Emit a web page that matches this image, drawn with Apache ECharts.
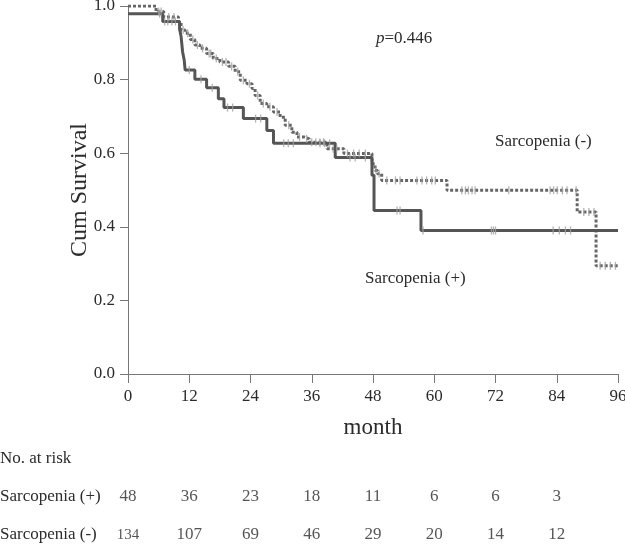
<!DOCTYPE html>
<html>
<head>
<meta charset="utf-8">
<script src="https://cdn.jsdelivr.net/npm/echarts@6/dist/echarts.min.js"></script>
<style>html,body{margin:0;padding:0;background:#fff}#c{width:625px;height:544px}</style>
</head>
<body>
<div id="c"></div>
<script>
// Kaplan-Meier step data (month, cumulative survival)
var plusT = [0, 6.8, 10.1, 10.4, 10.7, 11.0, 11.2, 13.1, 15.4, 17.7, 18.8, 22.6, 27.2, 28.5, 40.6, 47.8, 48.2, 57.4, 96];
var plusS = [0.979, 0.958, 0.9375, 0.917, 0.875, 0.854, 0.826, 0.801, 0.778, 0.748, 0.724, 0.694, 0.662, 0.627, 0.588, 0.54, 0.444, 0.39, 0.39];
var minusT = [0, 5.5, 7.0, 9.9, 10.4, 11.2, 12.2, 13.1, 14.1, 15.4, 16.7, 18.0, 19.7, 21.0, 22.0, 23.3, 24.3, 24.9, 25.9, 27.2, 28.5, 29.8, 30.8, 32.1, 33.1, 34.5, 35.5, 39.0, 42.3, 47.8, 48.4, 48.9, 49.7, 62.5, 88.0, 91.7, 96];
var minusS = [1.0, 0.985, 0.97, 0.957, 0.935, 0.926, 0.909, 0.894, 0.885, 0.871, 0.857, 0.848, 0.836, 0.821, 0.798, 0.789, 0.776, 0.757, 0.735, 0.726, 0.712, 0.698, 0.676, 0.657, 0.644, 0.639, 0.630, 0.612, 0.599, 0.571, 0.553, 0.544, 0.526, 0.499, 0.44, 0.294, 0.294];
// censored observation times
var plusCens = [6.2, 7.2, 7.8, 8.6, 9.3, 12, 14.3, 16.5, 19.5, 20.5, 25, 26, 30.5, 31.4, 32.4, 37.6, 38.5, 39.5, 43.5, 44.5, 46.5, 52.7, 53.3, 57.8, 71.2, 71.6, 72, 83.3, 84.5, 85.7, 86.7];
var minusCens = [6, 6.5, 8, 9, 10.8, 11.7, 12.7, 13.6, 14.6, 15.9, 16.2, 17.3, 18.5, 19.2, 20.3, 21.5, 22.6, 23.8, 25.4, 26.5, 27.8, 29.2, 31.5, 33.6, 35, 36, 36.8, 37.6, 38.3, 40.2, 40.9, 43, 44.2, 45.3, 46.5, 48.6, 49.2, 50.7, 52.4, 53.3, 56.6, 57.6, 58.5, 59.5, 60.2, 65.4, 66.1, 66.7, 67.4, 68, 74.6, 82.7, 83.4, 84.1, 85.1, 86, 87.8, 89.3, 90.3, 91.3, 92.5, 93.5, 94.5, 95.5];
// axis ticks
var xTicks = [0, 12, 24, 36, 48, 60, 72, 84, 96];
var yTicks = [0.0, 0.2, 0.4, 0.6, 0.8, 1.0];
// number at risk
var riskMonths = [0, 12, 24, 36, 48, 60, 72, 84];
var riskPlus = [48, 36, 23, 18, 11, 6, 6, 3];
var riskMinus = [134, 107, 69, 46, 29, 20, 14, 12];
var groups = ['Sarcopenia (+)', 'Sarcopenia (-)'];

var FONT = '"Liberation Serif", "DejaVu Serif", serif';
var TXT = '#2b2b2b';

function pairs(T, S) { return T.map(function (t, i) { return [t, S[i]]; }); }
function survAt(T, S, t) { var v = S[0]; for (var i = 0; i < T.length; i++) { if (T[i] <= t) v = S[i]; } return v; }
function cens(times, T, S) { return times.map(function (t) { return [t, survAt(T, S, t)]; }); }

var riskData = [];
riskMonths.forEach(function (m, i) {
  riskData.push({ value: [m, groups[0], riskPlus[i]] });
  riskData.push({ value: [m, groups[1], riskMinus[i]], small: riskMinus[i] >= 100 && m === 0 });
});

var chart = echarts.init(document.getElementById('c'), null, { renderer: 'canvas' });
chart.setOption({
  animation: false,
  backgroundColor: '#fff',
  textStyle: { fontFamily: FONT },
  grid: [
    { left: 128, right: 7, top: 6, bottom: 170, outerBoundsMode: 'none', containLabel: false },
    { left: 128, right: 7, top: 497, height: 38, outerBoundsMode: 'none', containLabel: false }
  ],
  xAxis: [
    {
      gridIndex: 0, type: 'value', min: 0, max: 96, interval: 12,
      name: 'month', nameLocation: 'middle', nameGap: 42, nameMoveOverlap: false,
      nameTextStyle: { fontFamily: FONT, fontSize: 23, color: TXT },
      axisLine: { lineStyle: { color: '#777', width: 1 } },
      axisTick: { length: 9, lineStyle: { color: '#777' } },
      axisLabel: { margin: 14, fontFamily: FONT, fontSize: 17, color: TXT },
      splitLine: { show: false }
    },
    { gridIndex: 1, type: 'value', min: 0, max: 96, show: false }
  ],
  yAxis: [
    {
      gridIndex: 0, type: 'value', min: 0, max: 1, interval: 0.2,
      name: 'Cum Survival', nameLocation: 'middle', nameGap: 36, nameRotate: 90, nameMoveOverlap: false,
      nameTextStyle: { fontFamily: FONT, fontSize: 24, color: TXT },
      axisLine: { show: true, lineStyle: { color: '#777', width: 1 } },
      axisTick: { show: true, length: 8, lineStyle: { color: '#777' } },
      axisLabel: { margin: 13, fontFamily: FONT, fontSize: 17, color: TXT,
        formatter: function (v) { return v.toFixed(1); } },
      splitLine: { show: false }
    },
    {
      gridIndex: 1, type: 'category', data: groups, inverse: true, boundaryGap: false,
      axisLine: { show: false }, axisTick: { show: false },
      axisLabel: { show: true, align: 'left', margin: 128, fontFamily: FONT, fontSize: 17, color: TXT }
    }
  ],
  series: [
    {
      name: 'Sarcopenia (+)', type: 'line', step: 'end', xAxisIndex: 0, yAxisIndex: 0,
      data: pairs(plusT, plusS), symbol: 'none', z: 3,
      lineStyle: { color: '#555', width: 3, type: 'solid' }
    },
    {
      name: 'Sarcopenia (-)', type: 'line', step: 'end', xAxisIndex: 0, yAxisIndex: 0,
      data: pairs(minusT, minusS), symbol: 'none', z: 2,
      lineStyle: { color: '#666', width: 3, type: [3, 2] }
    },
    {
      type: 'scatter', xAxisIndex: 0, yAxisIndex: 0, z: 4,
      data: cens(plusCens, plusT, plusS), symbol: 'rect', symbolSize: [1.3, 8],
      itemStyle: { color: '#a0a0a0' }
    },
    {
      type: 'scatter', xAxisIndex: 0, yAxisIndex: 0, z: 4,
      data: cens(minusCens, minusT, minusS), symbol: 'rect', symbolSize: [1.3, 8],
      itemStyle: { color: '#a0a0a0' }
    },
    {
      type: 'scatter', xAxisIndex: 1, yAxisIndex: 1, symbolSize: 0,
      data: riskData.map(function (d) {
        return { value: d.value, label: { fontSize: d.small ? 15 : 17 } };
      }),
      label: {
        show: true, position: 'inside', fontFamily: FONT, fontSize: 17, color: TXT,
        formatter: function (p) { return String(p.value[2]); }
      }
    }
  ],
  graphic: [
    { type: 'text', left: 376, top: 30, style: {
      text: '{i|p}=0.446', fontFamily: FONT, fontSize: 17, fill: TXT,
      rich: { i: { fontStyle: 'italic', fontFamily: FONT, fontSize: 17, fill: TXT } } } },
    { type: 'text', left: 495, top: 133, style: { text: 'Sarcopenia (-)', fontFamily: FONT, fontSize: 17, fill: TXT } },
    { type: 'text', left: 365, top: 270, style: { text: 'Sarcopenia (+)', fontFamily: FONT, fontSize: 17, fill: TXT } },
    { type: 'text', left: 0, top: 450, style: { text: 'No. at risk', fontFamily: FONT, fontSize: 17, fill: TXT } }
  ]
});
</script>
</body>
</html>
